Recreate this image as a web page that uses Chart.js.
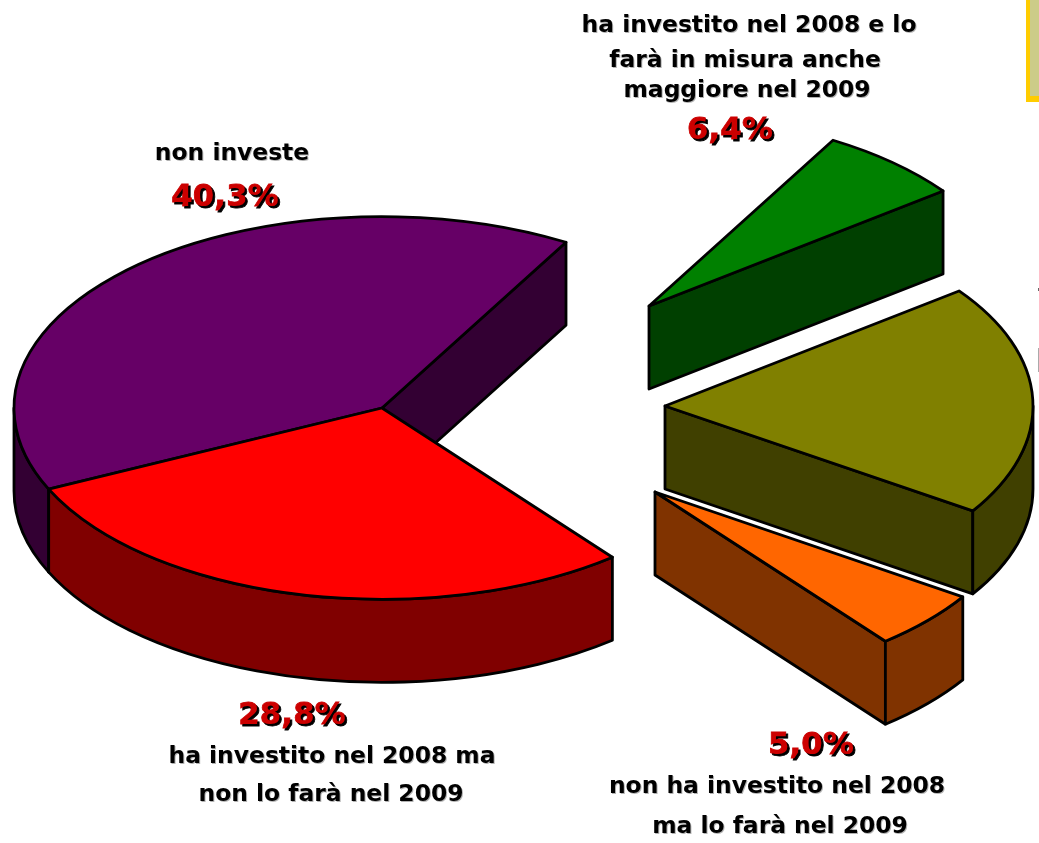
<!DOCTYPE html>
<html><head><meta charset="utf-8">
<style>html,body{margin:0;padding:0;background:#fff;overflow:hidden}canvas{display:block}</style>
<script src="https://cdn.jsdelivr.net/npm/chart.js@4/dist/chart.umd.js"></script>
</head><body><canvas id="c" width="1039" height="843"></canvas>
<script>
const categories = [
  "ha investito nel 2008 e lo farà in misura anche maggiore nel 2009",
  "(voce senza etichetta)",
  "non ha investito nel 2008 ma lo farà nel 2009",
  "ha investito nel 2008 ma non lo farà nel 2009",
  "non investe"
];
const values = [6.4, 19.5, 5.0, 28.8, 40.3];
const topColors = ["#008000", "#808000", "#ff6600", "#ff0000", "#660066"];
const sideColors = ["#004000", "#404000", "#803300", "#800000", "#330033"];
const shifts = [[267,-102],[283,-2],[273,84],[0,0],[0,0]];
const drawOrder = [4,3,0,1,2];
const SQUASH = 0.52, DEPTH = 83;

const captions = [
  {t:"ha investito nel 2008 e lo", x:749, y:32},
  {t:"farà in misura anche", x:745, y:67},
  {t:"maggiore nel 2009", x:747, y:97},
  {t:"non investe", x:232, y:160},
  {t:"ha investito nel 2008 ma", x:332, y:763},
  {t:"non lo farà nel 2009", x:331, y:801},
  {t:"non ha investito nel 2008", x:777, y:793},
  {t:"ma lo farà nel 2009", x:780, y:833}
];
const percents = [
  {t:"6,4%", x:730, y:139},
  {t:"40,3%", x:225, y:206},
  {t:"28,8%", x:292, y:724},
  {t:"5,0%", x:811, y:754}
];

const pie3d = {
  id:"pie3d",
  beforeDatasetsDraw(chart){
    const ctx = chart.ctx, arcs = chart.getDatasetMeta(0).data;
    ctx.save();
    ctx.lineWidth = 2.8; ctx.lineJoin = "round"; ctx.strokeStyle = "#000";
    drawOrder.forEach(i=>{
      const p = arcs[i].getProps(["x","y","startAngle","endAngle","outerRadius"]);
      const cx = p.x+shifts[i][0], cy = p.y+shifts[i][1];
      const r = p.outerRadius, ry = r*SQUASH, a0 = p.startAngle, a1 = p.endAngle;
      const px = a=>cx+r*Math.cos(a), py = a=>cy+ry*Math.sin(a);
      const face = a=>{
        ctx.beginPath(); ctx.moveTo(cx,cy); ctx.lineTo(px(a),py(a));
        ctx.lineTo(px(a),py(a)+DEPTH); ctx.lineTo(cx,cy+DEPTH); ctx.closePath();
        ctx.fillStyle = sideColors[i]; ctx.fill(); ctx.stroke();
      };
      if (-Math.cos(a0)>0) face(a0);
      if (Math.cos(a1)>0) face(a1);
      [[0,Math.PI],[2*Math.PI,3*Math.PI]].forEach(([lo,hi])=>{
        const s = Math.max(a0,lo), e = Math.min(a1,hi);
        if (e<=s) return;
        ctx.beginPath();
        ctx.ellipse(cx,cy,r,ry,0,s,e);
        ctx.lineTo(px(e),py(e)+DEPTH);
        ctx.ellipse(cx,cy+DEPTH,r,ry,0,e,s,true);
        ctx.closePath();
        ctx.fillStyle = sideColors[i]; ctx.fill(); ctx.stroke();
      });
      ctx.beginPath(); ctx.moveTo(cx,cy);
      ctx.ellipse(cx,cy,r,ry,0,a0,a1);
      ctx.closePath();
      ctx.fillStyle = topColors[i]; ctx.fill(); ctx.stroke();
    });
    ctx.restore();
    return false;
  },
  afterDraw(chart){
    const ctx = chart.ctx;
    ctx.save();
    ctx.fillStyle = "#ffcc00"; ctx.fillRect(1026,0,13,102);
    ctx.fillStyle = "#cccc88"; ctx.fillRect(1030,0,9,96);
    ctx.fillStyle = "#666"; ctx.fillRect(1038,288,1,3);
    ctx.fillStyle = "#aaa"; ctx.fillRect(1038,348,1,24);
    ctx.textAlign = "center"; ctx.textBaseline = "alphabetic";
    ctx.font = 'bold 23.4px "DejaVu Sans"';
    ctx.fillStyle = "#000"; ctx.shadowColor = "rgba(0,0,0,.3)";
    ctx.shadowOffsetX = 1; ctx.shadowOffsetY = 1; ctx.shadowBlur = 0;
    captions.forEach(c=>ctx.fillText(c.t,c.x,c.y));
    ctx.font = 'bold 31px "DejaVu Sans"';
    ctx.fillStyle = "#cc0000"; ctx.strokeStyle = "#cc0000"; ctx.lineWidth = 0.8;
    ctx.shadowColor = "#000"; ctx.shadowOffsetX = 2; ctx.shadowOffsetY = 2;
    percents.forEach(c=>{ctx.strokeText(c.t,c.x,c.y);ctx.fillText(c.t,c.x,c.y);});
    ctx.restore();
  }
};

new Chart(document.getElementById("c"),{
  type:"pie",
  data:{labels:categories,datasets:[{data:values,backgroundColor:topColors,borderWidth:0}]},
  options:{
    responsive:false,animation:false,rotation:30,
    layout:{padding:{left:14,right:289,top:40,bottom:67}},
    plugins:{legend:{display:false},tooltip:{enabled:false}}
  },
  plugins:[pie3d]
});
</script></body></html>
